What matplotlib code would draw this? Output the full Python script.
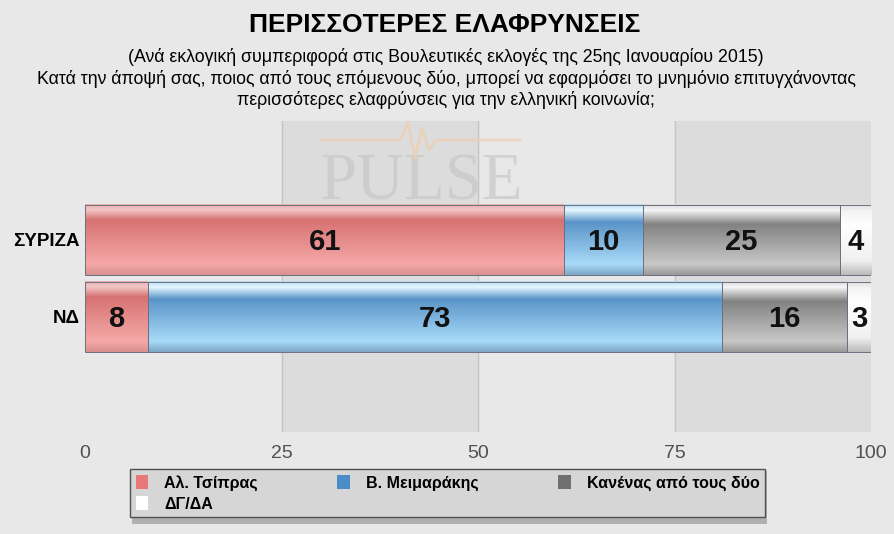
import numpy as np
import matplotlib
matplotlib.use('Agg')
import matplotlib.pyplot as plt
from matplotlib.colors import LinearSegmentedColormap
from matplotlib.patches import Patch, Rectangle

plt.rcParams['font.family'] = ['Liberation Sans', 'DejaVu Sans']

# dados
categorias = ['ΣΥΡΙΖΑ', 'ΝΔ']
series = ['Αλ. Τσίπρας', 'Β. Μειμαράκης', 'Κανένας από τους δύο', 'ΔΓ/ΔΑ']
tsipras = [61, 8]
meimarakis = [10, 73]
kanenas = [25, 16]
dg_da = [4, 3]
ticks = [0, 25, 50, 75, 100]

titulo = 'ΠΕΡΙΣΣΟΤΕΡΕΣ ΕΛΑΦΡΥΝΣΕΙΣ'
subtitulo = ['(Ανά εκλογική συμπεριφορά στις Βουλευτικές εκλογές της 25ης Ιανουαρίου 2015)',
             'Κατά την άποψή σας, ποιος από τους επόμενους δύο, μπορεί να εφαρμόσει το μνημόνιο επιτυγχάνοντας',
             'περισσότερες ελαφρύνσεις για την ελληνική κοινωνία;']

# gradientes (topo -> base)
grad = {
    0: [(0, '#eab0b0'), (0.08, '#f2c4c4'), (0.22, '#d67272'), (0.85, '#f6a8a8'), (1, '#d99090')],
    1: [(0, '#b8dcf4'), (0.08, '#e6f6ff'), (0.25, '#5a94c8'), (0.85, '#a8daf8'), (1, '#7fa8c8')],
    2: [(0, '#d8d8d8'), (0.08, '#f6f6f6'), (0.28, '#828282'), (0.85, '#c8c8c8'), (1, '#9a9a9a')],
    3: [(0, '#e0e0e0'), (0.1, '#f4f4f4'), (0.3, '#ffffff'), (0.8, '#f0f0f0'), (1, '#bcbcbc')],
}
cor_legenda = ['#e87878', '#4a8cc8', '#707070', '#ffffff']

bg = '#e8e8e8'
fig = plt.figure(figsize=(8.94, 5.34), dpi=100, facecolor=bg)
ax = fig.add_axes([85/894, 1-432/534, 786/894, 311/534])
ax.set_facecolor(bg)

# faixas de fundo
ax.axvspan(25, 50, color='#dcdcdc', zorder=0)
ax.axvspan(75, 100, color='#dcdcdc', zorder=0)
for t in [25, 50, 75]:
    ax.axvline(t, color='#c4c4c4', lw=1, zorder=0.5)

y = np.arange(len(categorias))
h = 0.91
dados = [tsipras, meimarakis, kanenas, dg_da]
esq = np.zeros(len(categorias))
for i, vals in enumerate(dados):
    cmap = LinearSegmentedColormap.from_list('g%d' % i, grad[i])
    img = cmap(np.linspace(0, 1, 100))[:, None, :3]
    for j, v in enumerate(vals):
        ax.imshow(img, extent=[esq[j], esq[j] + v, y[j] + h/2, y[j] - h/2],
                  aspect='auto', origin='upper', zorder=2, interpolation='bilinear')
        ax.text(esq[j] + v/2, y[j] + 0.02, str(v), ha='center', va='center',
                fontsize=21, fontweight='bold', color='#111111', zorder=4)
    ax.barh(y, vals, left=esq, height=h, color='none', edgecolor='#6a7080', lw=0.7, zorder=3)
    esq += np.array(vals)

ax.set_xlim(0, 100)
ax.set_ylim(len(categorias) - 1 + 1.494, -1.545)
ax.set_yticks(y)
ax.set_yticklabels(categorias, fontsize=13.5, fontweight='bold')
ax.set_xticks(ticks)
ax.set_xticklabels([str(t) for t in ticks], fontsize=14, color='#505050')
ax.tick_params(length=0)
ax.tick_params(axis='y', pad=4)
ax.tick_params(axis='x', pad=9)
for s in ax.spines.values():
    s.set_visible(False)

# marca d'agua PULSE
fig.text(421/894, 1-183/534, 'PULSE', family='Liberation Serif', fontsize=48,
         color='#c8c8c8', alpha=0.7, ha='center', va='center', zorder=1)
px = np.array([320, 400, 408, 415, 422, 429, 436, 520]) / 894
py = 1 - np.array([140, 140, 122, 158, 128, 150, 140, 140]) / 534
fig.add_artist(plt.Line2D(px, py, color='#ecd0b4', lw=2, alpha=0.8))

# titulos
fig.text(0.497, 1-25/534, titulo, ha='center', va='center', fontsize=19, fontweight='bold')
for k, linha in enumerate(subtitulo):
    fig.text(0.499, 1-(57 + k*21.5)/534, linha, ha='center', va='center', fontsize=12.8)

# legenda (com sombra)
fig.patches.append(Rectangle((132/894, 1-524/534), 635/894, 53/534, transform=fig.transFigure,
                             facecolor='#b0b0b0', edgecolor='none', zorder=0))
handles = [Patch(facecolor=c, edgecolor='none') for c in cor_legenda]
ordem = [0, 3, 1, 2]
leg = fig.legend([handles[i] for i in ordem], [series[i] for i in ordem], ncol=3,
                 loc='upper left', bbox_to_anchor=(130/894, 1-522/534, 635/894, 53/534),
                 mode='expand', frameon=True, fancybox=False, borderaxespad=0,
                 prop={'weight': 'bold', 'size': 11.5}, handlelength=0.8, handleheight=1.0,
                 handletextpad=1.0, labelspacing=0.35, borderpad=0.35)
leg.get_frame().set_facecolor('#d6d6d6')
leg.get_frame().set_edgecolor('#505050')
leg.get_frame().set_linewidth(1)
leg.get_frame().set_alpha(1)

plt.savefig('out.png', dpi=100, facecolor=bg)
